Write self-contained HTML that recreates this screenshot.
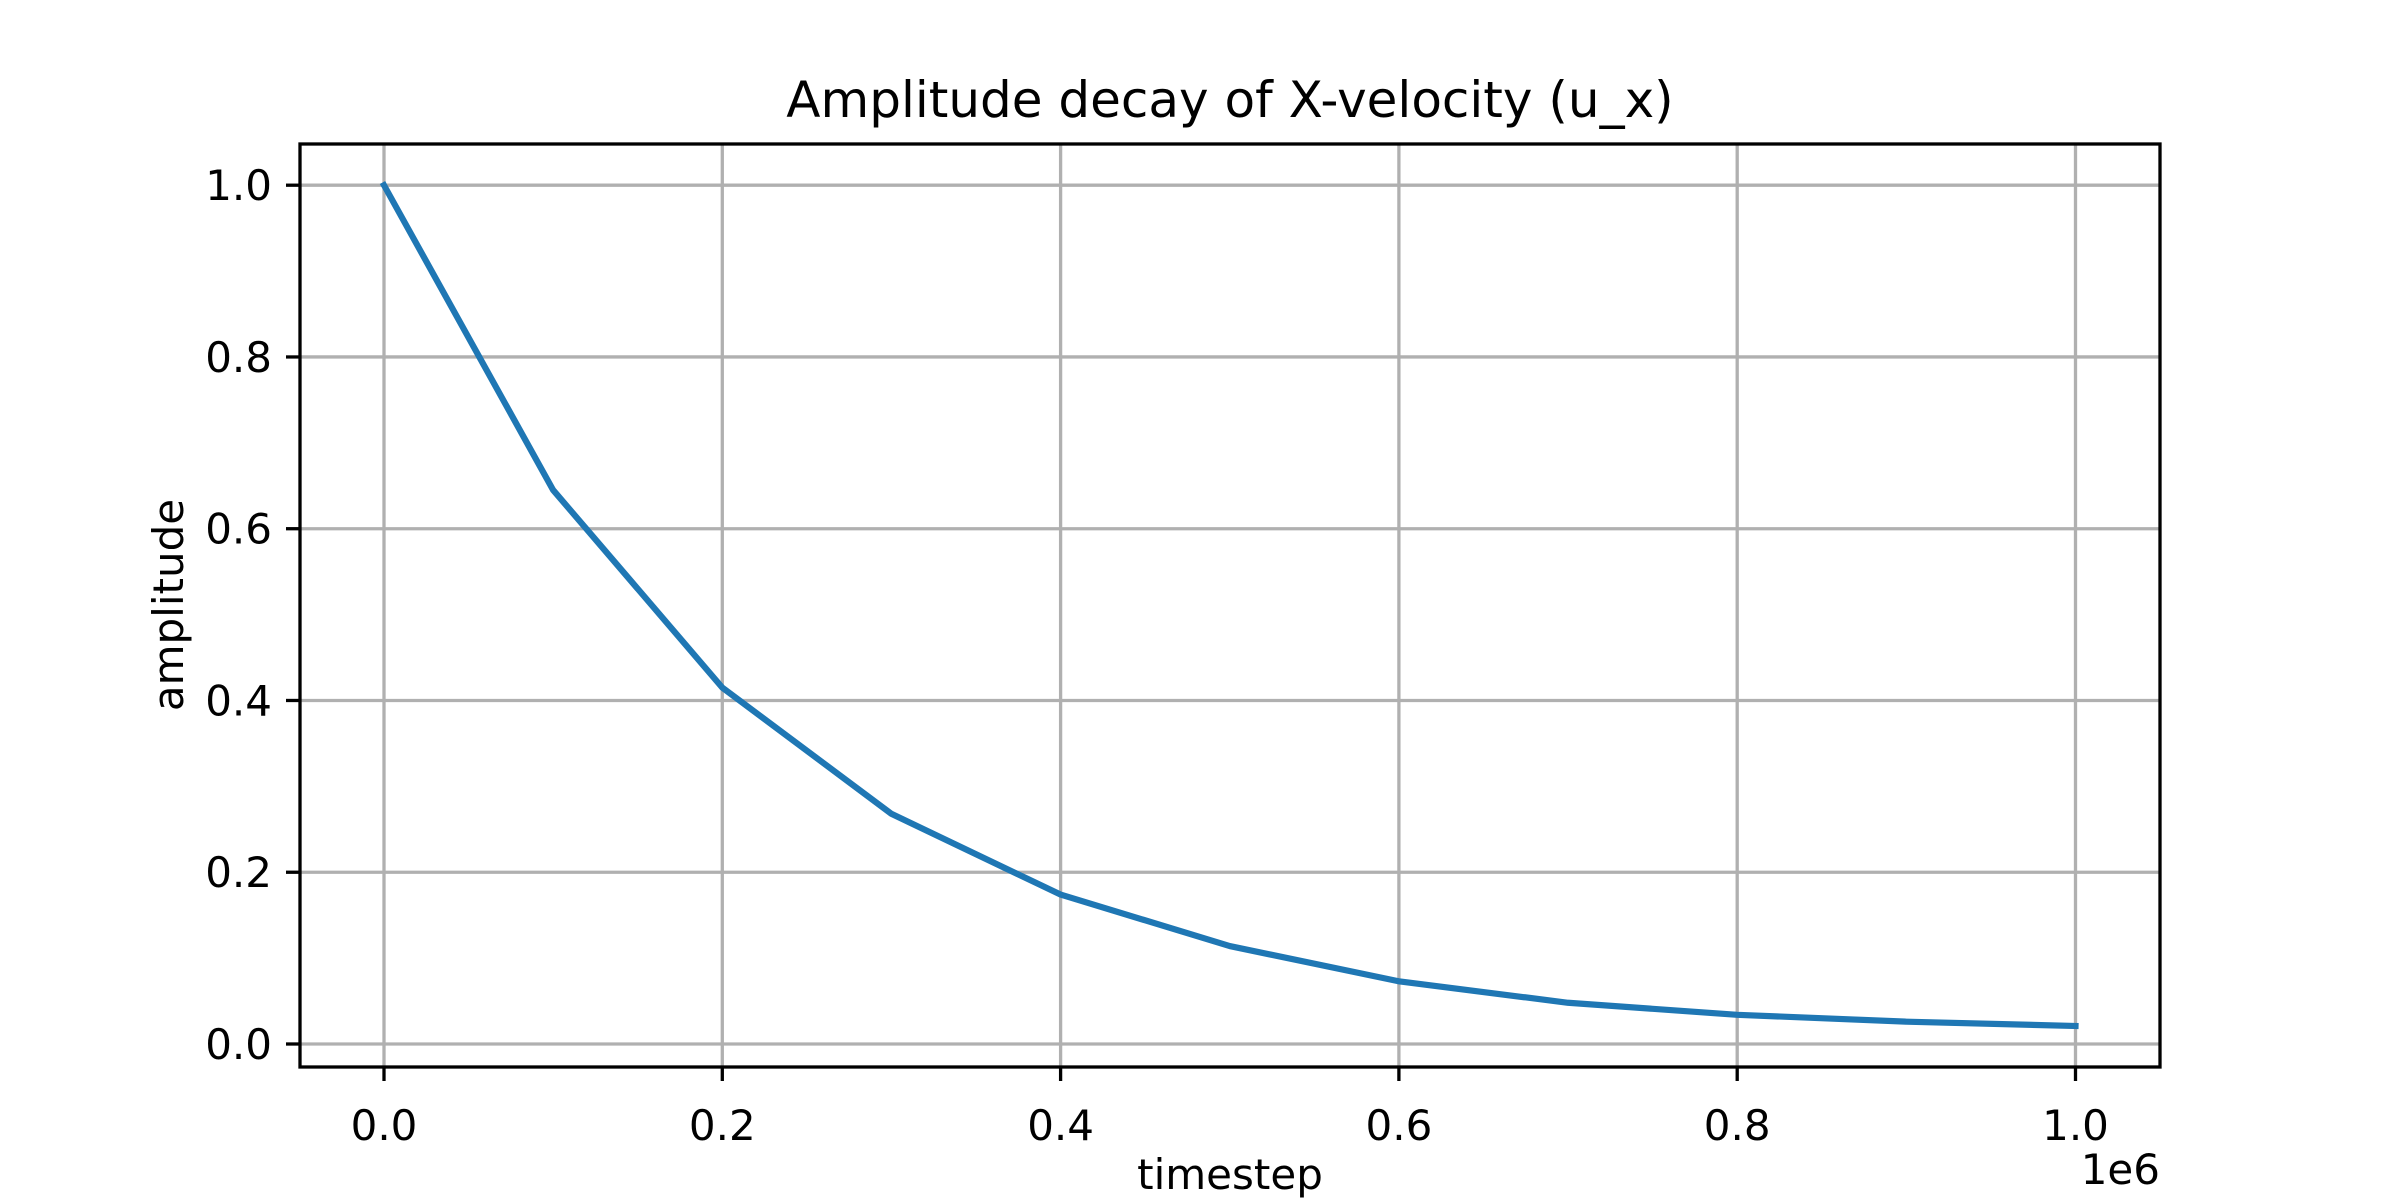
<!DOCTYPE html>
<html><head><meta charset="utf-8">
<style>html,body{margin:0;padding:0;background:#fff}svg{display:block}text{font-family:"DejaVu Sans","Liberation Sans",sans-serif;fill:#000}</style>
</head><body>
<svg id="chart" width="2400" height="1200" viewBox="0 0 2400 1200" xmlns="http://www.w3.org/2000/svg">
<rect width="2400" height="1200" fill="#fff"/>
<g id="grid"></g><g id="ticks"></g><g id="series"></g>
<rect x="300" y="144" width="1860" height="923" fill="none" stroke="#000" stroke-width="3.3"/>
<text x="1230" y="117" font-size="50" text-anchor="middle">Amplitude decay of X-velocity (u_x)</text>
<text x="1230" y="1189" font-size="42" text-anchor="middle">timestep</text>
<text x="0" y="0" font-size="42" text-anchor="middle" transform="translate(183,605) rotate(-90)">amplitude</text>
<text x="2160" y="1184" font-size="42" text-anchor="end">1e6</text>
</svg>
<script>
const timesteps = [0, 0.1, 0.2, 0.3, 0.4, 0.5, 0.6, 0.7, 0.8, 0.9, 1.0];
const amplitude = [1.0, 0.645, 0.415, 0.268, 0.174, 0.114, 0.073, 0.048, 0.034, 0.026, 0.021];
const xTicks = [0, 0.2, 0.4, 0.6, 0.8, 1.0];
const xTickLabels = ["0.0", "0.2", "0.4", "0.6", "0.8", "1.0"];
const yTicks = [0, 0.2, 0.4, 0.6, 0.8, 1.0];
const yTickLabels = ["0.0", "0.2", "0.4", "0.6", "0.8", "1.0"];

const NS = "http://www.w3.org/2000/svg";
const xS = v => 384 + v * (2075.5 - 384);
const yS = v => 1044 - v * (1044 - 185.2);
function mk(tag, attrs, parent) {
  const e = document.createElementNS(NS, tag);
  for (const k in attrs) e.setAttribute(k, attrs[k]);
  parent.appendChild(e);
  return e;
}
const grid = document.getElementById('grid'), ticks = document.getElementById('ticks'), series = document.getElementById('series');
xTicks.forEach((t, i) => {
  const x = xS(t);
  const g = mk('line', {x1: x, x2: x, y1: 144, y2: 1067, stroke: '#b0b0b0', 'stroke-width': 3.3}, grid);
  
  
  const tk = mk('line', {x1: x, x2: x, y1: 1067, y2: 1081, stroke: '#000', 'stroke-width': 3.3}, ticks);
  
  
  const tx = mk('text', {x: x, y: 1140, 'font-size': 42, 'text-anchor': 'middle'}, ticks);
  tx.textContent = xTickLabels[i];
  
  
});
yTicks.forEach((t, i) => {
  const y = yS(t);
  const g = mk('line', {x1: 300, x2: 2160, y1: y, y2: y, stroke: '#b0b0b0', 'stroke-width': 3.3}, grid);
  
  
  const tk = mk('line', {x1: 286, x2: 300, y1: y, y2: y, stroke: '#000', 'stroke-width': 3.3}, ticks);
  
  
  const tx = mk('text', {x: 272, y: y + 15, 'font-size': 42, 'text-anchor': 'end'}, ticks);
  tx.textContent = yTickLabels[i];
  
  
});
const pts = timesteps.map((t, i) => xS(t) + ',' + yS(amplitude[i])).join(' ');
const line = mk('polyline', {points: pts, fill: 'none', stroke: '#1f77b4', 'stroke-width': 6.2, 'stroke-linejoin': 'round', 'stroke-linecap': 'square'}, series);


</script>
</body></html>
